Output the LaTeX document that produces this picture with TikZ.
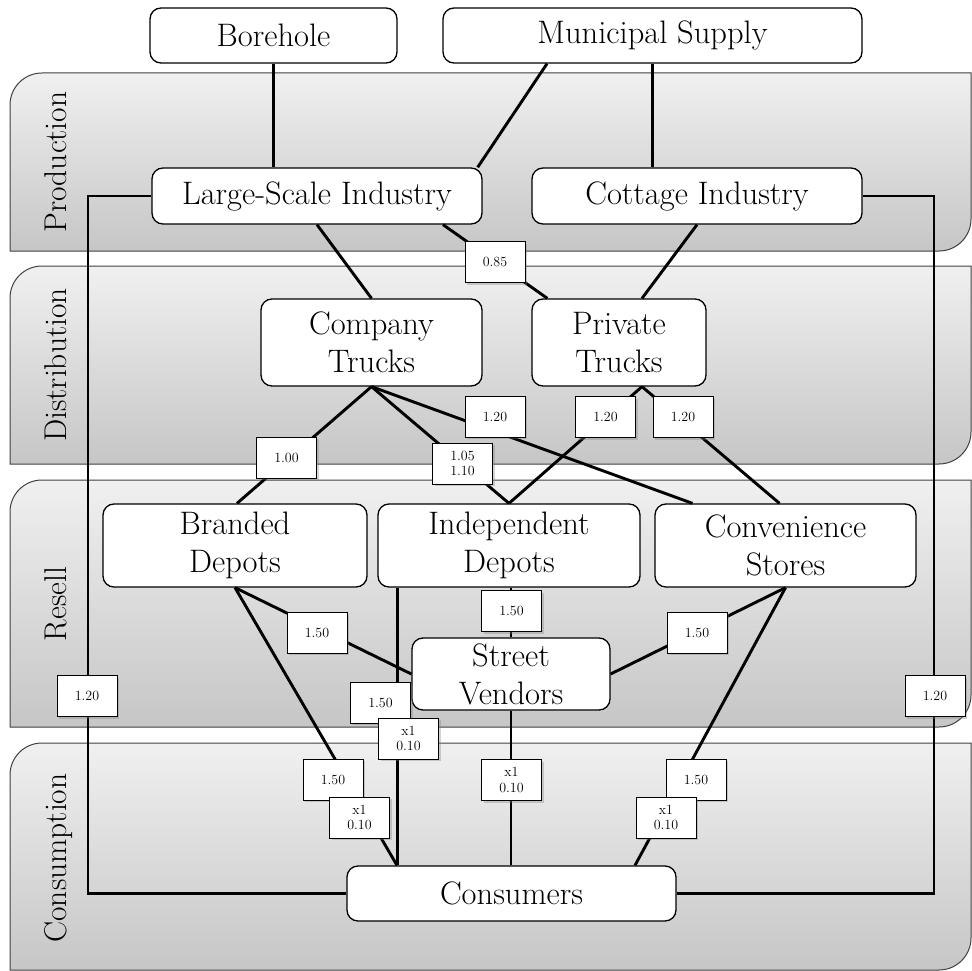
\documentclass[tikz,border=0pt]{standalone}
\usetikzlibrary{shadows,calc}
\definecolor{bandtop}{HTML}{F0F0F0}
\definecolor{bandbot}{HTML}{C6C6C6}
\begin{document}
\begin{tikzpicture}[x=1pt,y=-1pt,
 box/.style={draw=black, line width=1.3pt, fill=white, rounded corners=11pt, inner sep=0pt, align=center, font=\fontsize{32.5}{38}\selectfont},
 lab/.style={draw=black, line width=0.9pt, fill=white, inner sep=0pt, minimum width=60pt, minimum height=41pt, align=center, font=\fontsize{14}{15.5}\selectfont, drop shadow={shadow xshift=2pt, shadow yshift=-2pt, opacity=0.35}},
 conn/.style={line width=2.9pt},
 band/.style={draw=black!75, line width=1pt, top color=bandtop, bottom color=bandbot},
 bandlabel/.style={rotate=90, anchor=base, font=\fontsize{31.5}{35}\selectfont, inner sep=0pt}
]
\useasboundingbox (0,0) rectangle (972,971);
% bands
\draw[band] (10,105) .. controls (10,87.3) and (24.3,73) .. (42,73) -- (971,73) -- (971,219) .. controls (971,236.7) and (956.7,251) .. (939,251) -- (10,251) -- cycle;
\draw[band] (10,298) .. controls (10,280.3) and (24.3,266) .. (42,266) -- (971,266) -- (971,432) .. controls (971,449.7) and (956.7,464) .. (939,464) -- (10,464) -- cycle;
\draw[band] (10,512) .. controls (10,494.3) and (24.3,480) .. (42,480) -- (971,480) -- (971,695) .. controls (971,712.7) and (956.7,727) .. (939,727) -- (10,727) -- cycle;
\draw[band] (10,775) .. controls (10,757.3) and (24.3,743) .. (42,743) -- (971,743) -- (971,938) .. controls (971,955.7) and (956.7,970) .. (939,970) -- (10,970) -- cycle;
\node[bandlabel] (bl1) at (66,162) {Production};
\node[bandlabel] (bl2) at (66,365) {Distribution};
\node[bandlabel] (bl3) at (66,604) {Resell};
\node[bandlabel] (bl4) at (66,858) {Consumption};
% main nodes
\node[box, minimum width=247pt, minimum height=55pt] (bore) at (273.5,35.5) {Borehole};
\node[box, minimum width=419pt, minimum height=55pt] (muni) at (652.5,35.5) {Municipal Supply};
\node[box, minimum width=330pt, minimum height=56pt] (lsi) at (317,196) {Large-Scale Industry};
\node[box, minimum width=330pt, minimum height=56pt] (cot) at (697,196) {Cottage Industry};
\node[box, minimum width=221pt, minimum height=87pt] (comp) at (371.5,342.5) {Company\\Trucks};
\node[box, minimum width=174pt, minimum height=87pt] (priv) at (619,342.5) {Private\\Trucks};
\node[box, minimum width=264pt, minimum height=83pt] (brand) at (235,545.5) {Branded\\Depots};
\node[box, minimum width=262pt, minimum height=83pt] (indep) at (509,545.5) {Independent\\Depots};
\node[box, minimum width=261pt, minimum height=83pt] (conv) at (785.5,545.5) {Convenience\\Stores};
\node[box, minimum width=198pt, minimum height=72pt] (sv) at (511,674) {Street\\Vendors};
\node[box, minimum width=329pt, minimum height=55pt] (cons) at (511.5,893.5) {Consumers};
% connectors
\draw[conn] (bore.south) -- (bore.south |- lsi.north);
\draw[conn] ([xshift=-105.5pt]muni.south) -- ([xshift=-5pt]lsi.north east);
\draw[conn] (muni.south) -- (muni.south |- cot.north);
\draw[conn] (lsi.south) -- (comp.north);
\draw[conn] ([xshift=126pt]lsi.south) -- ([xshift=16pt]priv.north west);
\draw[conn] (cot.south) -- ([xshift=23pt]priv.north);
\draw[conn] (comp.south) -- ([xshift=2pt]brand.north);
\draw[conn] (comp.south) -- (indep.north);
\draw[conn] (comp.south) -- ([xshift=-93pt]conv.north);
\draw[conn] ([xshift=23pt]priv.south) -- (indep.north);
\draw[conn] ([xshift=23pt]priv.south) -- ([xshift=-6pt]conv.north);
\draw[conn] (brand.south) -- (sv.west);
\draw[conn] (brand.south) -- ([xshift=-114.5pt]cons.north);
\draw[conn] ([xshift=20pt]indep.south west) -- ([xshift=20pt]indep.south west |- cons.north);
\draw[conn] (sv.north |- indep.south) -- (sv.north);
\draw[conn] (conv.south) -- (sv.east);
\draw[conn] (conv.south) -- ([xshift=123.5pt]cons.north);
\draw[conn] (sv.south) -- (sv.south |- cons.north);
\coordinate (cL) at (88,893.5);
\coordinate (cR) at (934,893.5);
\draw[conn] (lsi.west) -| (cL) -- (cons.west);
\draw[conn] (cot.east) -| (cR) -- (cons.east);
% labels
\node[lab] (l085) at (495,262) {0.85};
\node[lab] (l120a) at (495,416.5) {1.20};
\node[lab] (l120b) at (605.5,417) {1.20};
\node[lab] (l120c) at (683,417) {1.20};
\node[lab] (l100) at (286.5,457.5) {1.00};
\node[lab] (l105) at (462.5,463.5) {1.05\\1.10};
\node[lab] (l150a) at (317,632.5) {1.50};
\node[lab] (l150b) at (697,632.5) {1.50};
\node[lab] (l150c) at (511.5,611) {1.50};
\node[lab] (l150d) at (380.5,702.5) {1.50};
\node[lab] (lx1d) at (408.5,738.5) {x1\\0.10};
\node[lab] (lx1s) at (511.5,780) {x1\\0.10};
\node[lab] (l150e) at (333,779.5) {1.50};
\node[lab] (lx1e) at (359.5,817.5) {x1\\0.10};
\node[lab] (l150f) at (696,779.5) {1.50};
\node[lab] (lx1f) at (666,817.5) {x1\\0.10};
\node[lab] (l120L) at (87,696) {1.20};
\node[lab] (l120R) at (935,696) {1.20};
\end{tikzpicture}
\end{document}
